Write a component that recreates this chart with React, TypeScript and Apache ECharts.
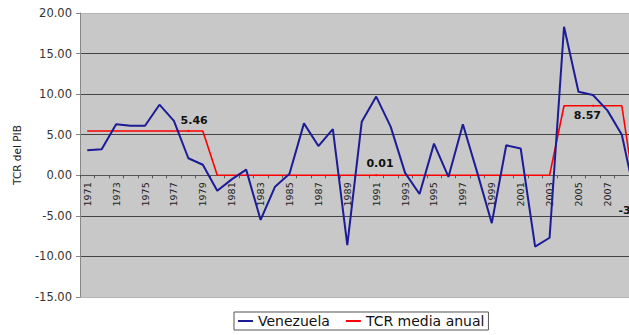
import React, { useEffect, useRef } from "react";
import * as echarts from "echarts";

const years: string[] = [
  "1971","1972","1973","1974","1975","1976","1977","1978","1979","1980",
  "1981","1982","1983","1984","1985","1986","1987","1988","1989","1990",
  "1991","1992","1993","1994","1995","1996","1997","1998","1999","2000",
  "2001","2002","2003","2004","2005","2006","2007","2008","2009",
];

const venezuela: number[] = [
  3.1, 3.2, 6.3, 6.1, 6.1, 8.7, 6.7, 2.1, 1.3, -1.9,
  -0.5, 0.7, -5.5, -1.4, 0.2, 6.4, 3.6, 5.7, -8.6, 6.6,
  9.7, 6.0, 0.3, -2.3, 3.9, -0.2, 6.3, 0.3, -5.9, 3.7,
  3.3, -8.8, -7.7, 18.3, 10.3, 9.9, 8.0, 5.0, -3.3,
];

const tcrMedia: number[] = [
  5.46, 5.46, 5.46, 5.46, 5.46, 5.46, 5.46, 5.46, 5.46, 0.01,
  0.01, 0.01, 0.01, 0.01, 0.01, 0.01, 0.01, 0.01, 0.01, 0.01,
  0.01, 0.01, 0.01, 0.01, 0.01, 0.01, 0.01, 0.01, 0.01, 0.01,
  0.01, 0.01, 0.01, 8.57, 8.57, 8.57, 8.57, 8.57, -3.3,
];

// index of the point carrying each period label, and label placement relative to it
const labelPoints: { idx: number; pos: number[] }[] = [
  { idx: 7, pos: [6.8, -9.3] },
  { idx: 20, pos: [4.8, -11.2] },
  { idx: 35, pos: [-4.5, 10.3] },
  { idx: 38, pos: [-1, 9] },
];

const yTicks = { min: -15, max: 20, interval: 5 };

const FONT = "DejaVu Sans";
const GRID_TOP = 13;
const GRID_H = 284;

export default function App() {
  const ref = useRef<HTMLDivElement>(null);
  useEffect(() => {
    if (!ref.current) return;
    const chart = echarts.init(ref.current, undefined, { renderer: "svg" });

    const zeroFromBottom = (GRID_H * (0 - yTicks.min)) / (yTicks.max - yTicks.min);

    const redData = tcrMedia.map((v, i) => {
      const lp = labelPoints.find((l) => l.idx === i);
      if (!lp) return { value: v, symbol: "none" };
      return {
        value: v,
        symbol: "circle",
        symbolSize: 2,
        itemStyle: { color: "#ff0000" },
        label: {
          show: true,
          position: lp.pos,
          align: "center",
          verticalAlign: "middle",
          formatter: (p: any) => Number(p.value).toFixed(2),
          fontFamily: FONT,
          fontWeight: "bold",
          fontSize: 11,
          color: "#111",
        },
      };
    });

    chart.setOption({
      animation: false,
      backgroundColor: "#ffffff",
      grid: {
        left: 80,
        top: GRID_TOP,
        width: 563.5,
        height: GRID_H,
        show: true,
        backgroundColor: "#c8c8c8",
        borderWidth: 0,
      },
      legend: {
        left: 234,
        top: 312,
        padding: [2, 4],
        borderColor: "#555",
        borderWidth: 1,
        itemGap: 16,
        itemWidth: 15,
        itemHeight: 2,
        icon: "rect",
        textStyle: { fontFamily: FONT, fontSize: 14, color: "#111" },
        data: ["Venezuela", "TCR media anual"],
      },
      xAxis: {
        type: "category",
        data: years,
        boundaryGap: true,
        position: "bottom",
        offset: -zeroFromBottom,
        axisLine: { show: true, onZero: false, lineStyle: { color: "#555", width: 1 } },
        axisTick: { show: true, interval: 0, length: 3, lineStyle: { color: "#555" } },
        axisLabel: {
          interval: 1,
          rotate: 90,
          margin: 7,
          fontFamily: FONT,
          fontSize: 9.5,
          color: "#222",
        },
        splitLine: { show: false },
      },
      yAxis: {
        type: "value",
        min: yTicks.min,
        max: yTicks.max,
        interval: yTicks.interval,
        name: "TCR del PIB",
        nameLocation: "middle",
        nameGap: 58,
        nameTextStyle: { fontFamily: FONT, fontSize: 10.5, color: "#222" },
        axisLine: { show: true, lineStyle: { color: "#888" } },
        axisTick: { show: true, length: 4, lineStyle: { color: "#888" } },
        axisLabel: {
          formatter: (v: number) => v.toFixed(2),
          fontFamily: FONT,
          fontSize: 11.5,
          color: "#333",
          margin: 8,
        },
        splitLine: {
          show: true,
          lineStyle: {
            color: ["#b4b4b4", "#444", "#444", "#444", "#444", "#444", "#444", "#b4b4b4"],
            width: 1,
          },
        },
      },
      series: [
        {
          name: "Venezuela",
          type: "line",
          data: venezuela,
          symbol: "none",
          color: "#1c1c96",
          lineStyle: { color: "#1c1c96", width: 2 },
          z: 3,
        },
        {
          name: "TCR media anual",
          type: "line",
          data: redData,
          showSymbol: true,
          showAllSymbol: true,
          color: "#ff0000",
          lineStyle: { color: "#ff0000", width: 1.6 },
          labelLayout: { hideOverlap: false },
          z: 2,
        },
      ],
    });
    return () => chart.dispose();
  }, []);

  return (
    <div
      ref={ref}
      style={{ position: "fixed", left: 0, top: 0, width: 660, height: 335 }}
    />
  );
}
